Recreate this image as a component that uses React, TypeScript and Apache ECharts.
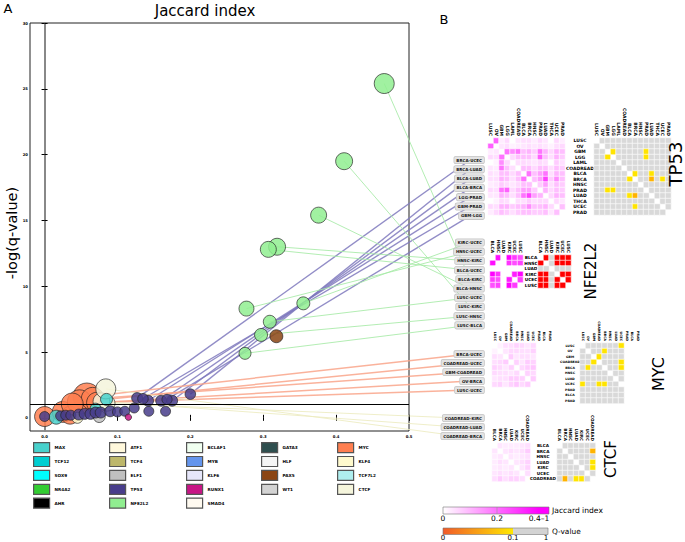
import React, { useEffect, useRef } from "react";
import * as echarts from "echarts";

const FONT = "DejaVu Sans";

// ---------------- Panel A : scatter ----------------
const X_TICKS = [0, 0.1, 0.2, 0.3, 0.4, 0.5];
const Y_TICKS = [0, 5, 10, 15, 20, 25, 30];
const Q_THRESHOLD = 1; // -log(q) significance line
const NONSIG_Q = 1;

// significant pairs: [pair, jaccard index, -log(q), number of genes]
const TP53_PAIRS: [string, number, number, number][] = [
  ["BRCA-UCEC", 0.127, 1.5, 30],
  ["BRCA-LUAD", 0.2, 1.8, 28],
  ["BLCA-LUAD", 0.175, 1.3, 30],
  ["BLCA-BRCA", 0.16, 1.3, 30],
  ["LGG-PRAD", 0.142, 1.3, 30],
  ["GBM-PRAD", 0.135, 1.45, 28],
  ["GBM-LGG", 0.168, 1.4, 26],
];
const NFE2L2_PAIRS: [string, number, number, number][] = [
  ["KIRC-UCEC", 0.355, 8.7, 42],
  ["HNSC-UCEC", 0.277, 8.3, 56],
  ["HNSC-KIRC", 0.319, 13.0, 72],
  ["BLCA-UCEC", 0.307, 12.8, 64],
  ["BLCA-KIRC", 0.466, 25.4, 100],
  ["BLCA-HNSC", 0.376, 15.4, 64],
  ["LUSC-UCEC", 0.309, 7.3, 42],
  ["LUSC-KIRC", 0.411, 19.5, 72],
  ["LUSC-HNSC", 0.297, 6.3, 42],
  ["LUSC-BLCA", 0.275, 4.9, 36],
];
const MYC_PAIRS: [string, number, number, number][] = [
  ["BRCA-UCEC", 0.058, 1.6, 190],
  ["COADREAD-UCEC", 0.048, 1.2, 150],
  ["GBM-COADREAD", 0.066, 1.45, 130],
  ["OV-BRCA", 0.038, 1.05, 120],
  ["LUSC-UCEC", 0.072, 1.15, 110],
];
const CTCF_PAIRS: [string, number, number, number][] = [
  ["COADREAD-KIRC", 0.086, 1.1, 60],
  ["COADREAD-LUAD", 0.078, 1.25, 70],
  ["COADREAD-BRCA", 0.084, 2.2, 100],
];

// other (unlabelled) points: [jaccard, -log(q), genes]
const TP53_OTHER = [
  [0.0, 0.1, 25], [0.022, 0.15, 25], [0.029, 0.2, 25], [0.036, 0.2, 25], [0.047, 0.25, 30],
  [0.055, 0.3, 30], [0.063, 0.3, 30], [0.07, 0.4, 30], [0.077, 0.4, 30], [0.09, 0.5, 30],
  [0.1, 0.45, 25], [0.11, 0.5, 25], [0.123, 0.75, 25], [0.143, 0.5, 25], [0.166, 0.5, 25],
];
const MYC_OTHER = [[0.0, 0.1, 100], [0.025, 0.45, 110], [0.035, 0.2, 80]];
const MAX_POINTS = [[0.016, 0.05, 49], [0.085, 1.4, 36], [0.07, 0.7, 30]];
const PAX5_POINTS = [[0.318, 6.2, 42]];
const RUNX1_POINTS = [[0.115, 0.05, 10]];
const ELF1_POINTS = [[0.075, 0.1, 36]];
const KLF4_POINTS = [[0.045, 0.0, 30]];

const LEGEND_COLUMNS = [
  ["MAX", "TCF12", "SOX9", "NR4A2", "AHR"],
  ["ATF1", "TCF4", "ELF1", "TP53", "NFE2L2"],
  ["BCLAF1", "MYB", "KLF6", "RUNX1", "SMAD4"],
  ["GATA3", "HLF", "PAX5", "WT1"],
  ["MYC", "KLF4", "TCF7L2", "CTCF"],
];
const TF_COLORS: Record<string, string> = {
  MAX: "#48D1CC", TCF12: "#00CED1", SOX9: "#00FFFF", NR4A2: "#32CD32", AHR: "#000000",
  ATF1: "#FFF8DC", TCF4: "#BDB76B", ELF1: "#C0C0C0", TP53: "#483D8B", NFE2L2: "#90EE90",
  BCLAF1: "#F0FFF0", MYB: "#6495ED", KLF6: "#E6E6FA", RUNX1: "#C71585", SMAD4: "#FFFAF0",
  GATA3: "#2F4F4F", HLF: "#F5F5F5", PAX5: "#8B4513", WT1: "#D3D3D3",
  MYC: "#FF7F50", KLF4: "#FFFACD", TCF7L2: "#AFEEEE", CTCF: "#F5F5DC",
};

// ---------------- Panel B : heatmaps ----------------
const TP53_TYPES = ["LUSC", "OV", "GBM", "LGG", "LAML", "COADREAD", "BLCA", "BRCA", "HNSC", "PRAD", "LUAD", "THCA", "UCEC", "PRAD"];
const NFE2L2_TYPES = ["BLCA", "HNSC", "LUAD", "KIRC", "UCEC", "LUSC"];
const MYC_TYPES = ["LUSC", "OV", "GBM", "COADREAD", "BRCA", "HNSC", "LUAD", "UCEC", "PRAD", "BLCA", "PRAD"];
const CTCF_TYPES = ["BLCA", "BRCA", "HNSC", "LUAD", "KIRC", "UCEC", "COADREAD"];

const TP53_JACC = [
  [0, .25, .03, .06, 0, .04, .05, .05, .03, .06, .04, 0, .06, .03],
  [.25, 0, .04, .05, .02, .03, .04, .05, .04, .05, .04, .02, .05, .06],
  [.03, .04, 0, .22, .18, .22, .10, .12, .08, .22, .12, .06, .12, .10],
  [.06, .05, .22, 0, .06, .10, .10, .10, .06, .25, .10, .05, .12, .08],
  [0, .02, .18, .06, 0, .05, .06, .05, .04, .06, .05, 0, .08, .05],
  [.04, .03, .22, .10, .05, 0, .10, .10, .06, .10, .10, .05, .10, .08],
  [.05, .04, .10, .10, .06, .10, 0, .22, .10, .15, .22, .05, .12, .10],
  [.05, .05, .12, .10, .05, .10, .22, 0, .10, .15, .30, .08, .18, .10],
  [.03, .04, .08, .06, .04, .06, .10, .10, 0, .08, .15, .05, .10, .08],
  [.06, .05, .22, .25, .06, .10, .15, .15, .08, 0, .12, .06, .10, .08],
  [.04, .04, .12, .10, .05, .10, .22, .30, .15, .12, 0, .06, .12, .10],
  [0, .02, .06, .05, 0, .05, .05, .08, .05, .06, .06, 0, .06, .04],
  [.06, .05, .12, .12, .08, .10, .12, .18, .10, .10, .12, .06, 0, .10],
  [.03, .06, .10, .08, .05, .08, .10, .10, .08, .08, .10, .04, .10, 0],
];
const MYC_JACC = [
  [0, .02, .05, .05, .07, .06, .04, .06],
  [.02, 0, .04, .06, .06, .05, .05, .07],
  [.05, .04, 0, .08, .04, .05, .05, .04],
  [.05, .06, .08, 0, .07, .04, .08, .07],
  [.07, .06, .04, .07, 0, .06, .08, .09],
  [.06, .05, .05, .04, .06, 0, .07, .06],
  [.04, .05, .05, .08, .08, .07, 0, .08],
  [.06, .07, .04, .07, .09, .06, .08, 0],
];
const MYC_Q_COLS = 8;
const CTCF_JACC = [
  [0, .04, .03, .03, .03, .04, .05],
  [.04, 0, .04, .05, .04, .05, .08],
  [.03, .04, 0, .04, .03, .04, .05],
  [.03, .05, .04, 0, .04, .05, .07],
  [.03, .04, .03, .04, 0, .04, .07],
  [.04, .05, .04, .05, .04, 0, .05],
  [.05, .08, .05, .07, .07, .05, 0],
];

const Q_PIECES = [
  { lt: 0.001, color: "#ff0000" },
  { gte: 0.001, lt: 0.02, color: "#ffb300" },
  { gte: 0.02, lt: 0.1, color: "#ffe400" },
  { gte: 0.1, color: "#d9d9d9" },
];

function pairIdx(types: string[], pair: string) {
  const [a, b] = pair.split("-");
  return [types.indexOf(a), types.indexOf(b)];
}
function matrixCells(m: number[][]) {
  const out: number[][] = [];
  m.forEach((row, r) => row.forEach((v, c) => { if (r !== c) out.push([c, r, v]); }));
  return out;
}
function pairJaccCells(types: string[], pairs: [string, number, number, number][]) {
  const n = types.length;
  const m = Array.from({ length: n }, () => Array(n).fill(0));
  pairs.forEach(([p, j]) => { const [a, b] = pairIdx(types, p); m[a][b] = j; m[b][a] = j; });
  return matrixCells(m);
}
function qCells(types: string[], pairs: [string, number, number, number][], rows: number, cols: number) {
  const sig = new Map<string, number>();
  pairs.forEach(([p, , nlq]) => {
    const [a, b] = pairIdx(types, p);
    const q = Math.pow(10, -nlq);
    sig.set(a + "," + b, q); sig.set(b + "," + a, q);
  });
  const out: number[][] = [];
  for (let r = 0; r < rows; r++) for (let c = 0; c < cols; c++) {
    if (r === c) continue;
    const v = sig.get(r + "," + c);
    out.push([c, r, v === undefined ? NONSIG_Q : v]);
  }
  return out;
}

const PANELS = [
  { name: "TP53", types: TP53_TYPES, jacc: matrixCells(TP53_JACC), q: qCells(TP53_TYPES, TP53_PAIRS, 14, 14),
    font: 4.5, rowMargin: 14, jGrid: [488, 138, 77], qGrid: [594, 138, 77] },
  { name: "NFE2L2", types: NFE2L2_TYPES, jacc: pairJaccCells(NFE2L2_TYPES, NFE2L2_PAIRS), q: qCells(NFE2L2_TYPES, NFE2L2_PAIRS, 6, 6),
    font: 4.3, rowMargin: 7, jGrid: [490, 255, 33], qGrid: [538, 255, 33] },
  { name: "MYC", types: MYC_TYPES, jacc: matrixCells(MYC_JACC), q: qCells(MYC_TYPES, MYC_PAIRS, 11, MYC_Q_COLS),
    font: 3.2, rowMargin: 10, jGrid: [492, 343, 60.5], qGrid: [580, 343, 60.5] },
  { name: "CTCF", types: CTCF_TYPES, jacc: matrixCells(CTCF_JACC), q: qCells(CTCF_TYPES, CTCF_PAIRS, 7, 7),
    font: 4.2, rowMargin: 14, jGrid: [492, 443, 38.5], qGrid: [557, 443, 38.5] },
];

const LINK_GROUPS = [
  { pairs: TP53_PAIRS, y0: 160, dy: 9.3, color: "#7f79bd", width: 1.4, endX: 470 },
  { pairs: NFE2L2_PAIRS, y0: 242.5, dy: 9.2, color: "#a6eaa6", width: 1, endX: 470 },
  { pairs: MYC_PAIRS, y0: 354, dy: 9, color: "#f9a48a", width: 1.5, endX: 470 },
  { pairs: CTCF_PAIRS, y0: 418, dy: 9, color: "#ecebbf", width: 1, endX: 458 },
];

function scatterData(name: string): number[][] {
  const fromPairs = (ps: [string, number, number, number][]) => ps.map(([, x, y, n]) => [x, y, n]);
  switch (name) {
    case "TP53": return [...TP53_OTHER, ...fromPairs(TP53_PAIRS)];
    case "NFE2L2": return fromPairs(NFE2L2_PAIRS);
    case "MYC": return [...MYC_OTHER, ...fromPairs(MYC_PAIRS)];
    case "CTCF": return fromPairs(CTCF_PAIRS);
    case "MAX": return MAX_POINTS;
    case "PAX5": return PAX5_POINTS;
    case "RUNX1": return RUNX1_POINTS;
    case "ELF1": return ELF1_POINTS;
    case "KLF4": return KLF4_POINTS;
    default: return [];
  }
}
const DRAW_ORDER = ["MYC", "CTCF", "KLF4", "ELF1", "MAX", "TP53", "NFE2L2", "PAX5", "RUNX1"];

function buildOption(): any {
  const tfNames = [...DRAW_ORDER, ...Object.keys(TF_COLORS).filter((n) => !DRAW_ORDER.includes(n))];
  const series: any[] = tfNames.map((name) => ({
    type: "scatter",
    name,
    xAxisIndex: 0,
    yAxisIndex: 0,
    data: scatterData(name),
    symbolSize: (v: number[]) => Math.sqrt(v[2]) * 2,
    itemStyle: { color: TF_COLORS[name], opacity: 0.85, borderColor: "#222", borderWidth: 0.8 },
    emphasis: { disabled: true },
    ...(name === "RUNX1"
      ? { markLine: { silent: true, symbol: "none", label: { show: false }, z: 10,
          lineStyle: { color: "#000", width: 1, type: "solid" }, data: [{ yAxis: Q_THRESHOLD }] } }
      : {}),
  }));

  const grid: any[] = [{ left: 30, top: 23, width: 379, height: 408, show: true, borderColor: "#222", borderWidth: 1 }];
  const tickLabel = { fontSize: 3.8, fontWeight: "bold", fontFamily: FONT, color: "#000" };
  const xAxis: any[] = [
    { type: "value", gridIndex: 0, min: -0.02, max: 0.5, splitLine: { show: false }, axisLine: { show: false },
      axisTick: { inside: true, length: 3, customValues: X_TICKS, lineStyle: { color: "#000" } },
      axisLabel: { ...tickLabel, customValues: X_TICKS, margin: 3, formatter: (v: number) => v.toFixed(1) } },
    { type: "value", gridIndex: 0, position: "top", min: -0.02, max: 0.5, splitLine: { show: false }, axisLine: { show: false },
      axisTick: { inside: true, length: 3, customValues: X_TICKS, lineStyle: { color: "#000" } }, axisLabel: { show: false } },
  ];
  const yAxis: any[] = [
    { type: "value", gridIndex: 0, min: -1, max: 30, splitLine: { show: false },
      axisLine: { show: true, lineStyle: { color: "#888", width: 2 } },
      axisTick: { inside: true, length: 3, customValues: Y_TICKS, lineStyle: { color: "#000" } },
      axisLabel: { ...tickLabel, customValues: Y_TICKS, margin: 2 } },
    { type: "value", gridIndex: 0, position: "right", min: -1, max: 30, splitLine: { show: false }, axisLine: { show: false },
      axisTick: { inside: true, length: 3, customValues: Y_TICKS, lineStyle: { color: "#000" } }, axisLabel: { show: false } },
  ];

  const jaccIdx: number[] = [];
  const qIdx: number[] = [];
  PANELS.forEach((p) => {
    [["J", p.jGrid, p.jacc], ["Q", p.qGrid, p.q]].forEach(([kind, g, data]: any) => {
      const gi = grid.length;
      grid.push({ left: g[0], top: g[1], width: g[2], height: g[2] });
      const axisIndex = xAxis.length;
      xAxis.push({ type: "category", gridIndex: gi, position: "top", data: p.types,
        axisLine: { show: false }, axisTick: { show: false }, splitLine: { show: false },
        axisLabel: { interval: 0, rotate: 90, fontSize: p.font, fontWeight: "bold", fontFamily: FONT, color: "#000", margin: 2 } });
      yAxis.push({ type: "category", gridIndex: gi, inverse: true, data: p.types,
        axisLine: { show: false }, axisTick: { show: false }, splitLine: { show: false },
        axisLabel: { show: kind === "Q", interval: 0, fontSize: p.font, fontWeight: "bold", fontFamily: FONT, color: "#000",
          align: "center", margin: p.rowMargin } });
      (kind === "J" ? jaccIdx : qIdx).push(series.length);
      series.push({ type: "heatmap", name: p.name + (kind === "J" ? " Jaccard" : " Q"), xAxisIndex: axisIndex, yAxisIndex: axisIndex,
        data, itemStyle: { borderColor: "#fff", borderWidth: 0.6 }, emphasis: { disabled: true } });
    });
  });

  const LEGEND_LEFTS = [33, 109, 186, 261, 337];
  const legend = LEGEND_COLUMNS.map((names, i) => ({
    data: names, orient: "vertical", left: LEGEND_LEFTS[i], top: 442, padding: 0,
    itemWidth: 16, itemHeight: 10, itemGap: 2.7, icon: "rect", selectedMode: false,
    itemStyle: { borderColor: "#555", borderWidth: 1.2, opacity: 1 },
    textStyle: { fontSize: 4.2, fontWeight: "bold", fontFamily: FONT, color: "#000" },
  }));

  return {
    animation: false,
    backgroundColor: "#fff",
    textStyle: { fontFamily: FONT },
    grid, xAxis, yAxis, series, legend,
    visualMap: [
      { type: "continuous", show: false, min: 0, max: 0.4, seriesIndex: jaccIdx, inRange: { color: ["#ffffff", "#ff00ff"] } },
      { type: "piecewise", show: false, seriesIndex: qIdx, pieces: Q_PIECES },
    ],
  };
}

function txt(text: string, x: number, y: number, size: number, extra: any = {}, styleExtra: any = {}) {
  return { type: "text", x, y, silent: true, z: 20, ...extra,
    style: { text, fontSize: size, lineHeight: size, fontFamily: FONT, fill: "#000", align: "center", verticalAlign: "middle", ...styleExtra } };
}

function buildGraphic(chart: any): any[] {
  const els: any[] = [];
  // panel letters & titles
  els.push(txt("A", 8, 8, 13));
  els.push(txt("B", 444, 19, 13));
  els.push(txt("Jaccard index", 205, 11, 15));
  els.push(txt("-log(q-value)", 12, 233, 14.5, { rotation: Math.PI / 2 }));
  // TF names in panel B
  els.push(txt("TP53", 675, 164, 18, { rotation: Math.PI / 2 }));
  els.push(txt("NFE2L2", 591, 271, 15, { rotation: Math.PI / 2 }));
  els.push(txt("MYC", 658, 374, 16, { rotation: Math.PI / 2 }));
  els.push(txt("CTCF", 611, 459, 15, { rotation: Math.PI / 2 }));

  // links and labels
  LINK_GROUPS.forEach((g) => {
    g.pairs.forEach(([label, x, y], i) => {
      const [px, py] = chart.convertToPixel({ gridIndex: 0 }, [x, y]);
      const ly = g.y0 + i * g.dy;
      els.push({ type: "line", z: 1, silent: true, shape: { x1: px, y1: py, x2: g.endX, y2: ly },
        style: { stroke: g.color, lineWidth: g.width, opacity: 0.85 } });
      els.push({ type: "text", x: 484, y: ly, z: 20, silent: true,
        style: { text: label, fontSize: 4, fontWeight: "bold", fontFamily: FONT, fill: "#111", align: "right", verticalAlign: "middle",
          backgroundColor: "#e3e3e3", borderColor: "#c6c6c6", borderWidth: 0.8, borderRadius: 1.5, padding: [1.3, 2] } });
    });
  });

  // colour bars
  els.push({ type: "rect", z: 20, silent: true, shape: { x: 443, y: 507, width: 106, height: 7 },
    style: { fill: new echarts.graphic.LinearGradient(0, 0, 1, 0, [
      { offset: 0, color: "#ffffff" }, { offset: 0.9, color: "#ff00ff" }, { offset: 1, color: "#ff00ff" }]),
      stroke: "#777", lineWidth: 0.6 } });
  els.push({ type: "line", z: 21, silent: true, shape: { x1: 497, y1: 507, x2: 497, y2: 514 }, style: { stroke: "#999", lineWidth: 0.6 } });
  els.push(txt("0", 443, 518.5, 7.5));
  els.push(txt("0.2", 497, 518.5, 7.5));
  els.push(txt("0.4–1", 539, 518.5, 7.5));
  els.push(txt("Jaccard index", 552, 510, 7.6, {}, { align: "left" }));

  els.push({ type: "rect", z: 20, silent: true, shape: { x: 443, y: 528, width: 105, height: 6.5 },
    style: { fill: new echarts.graphic.LinearGradient(0, 0, 1, 0, [
      { offset: 0, color: "#f15a29" }, { offset: 0.667, color: "#ffe800" },
      { offset: 0.667, color: "#d3d3d3" }, { offset: 1, color: "#d3d3d3" }]),
      stroke: "#777", lineWidth: 0.6 } });
  els.push(txt("0", 443, 538.3, 7));
  els.push(txt("0.1", 513, 538.3, 7));
  els.push(txt("1", 546, 538.3, 7));
  els.push(txt("Q-value", 552, 531, 7.4, {}, { align: "left" }));
  return els;
}

export default function App() {
  const ref = useRef<HTMLDivElement>(null);
  useEffect(() => {
    const el = ref.current;
    if (!el) return;
    const chart = echarts.init(el, undefined, { renderer: "svg" });
    chart.setOption(buildOption());
    chart.setOption({ graphic: buildGraphic(chart) });
    return () => chart.dispose();
  }, []);
  return <div ref={ref} style={{ position: "absolute", left: 0, top: 0, width: 685, height: 542, background: "#fff" }} />;
}
